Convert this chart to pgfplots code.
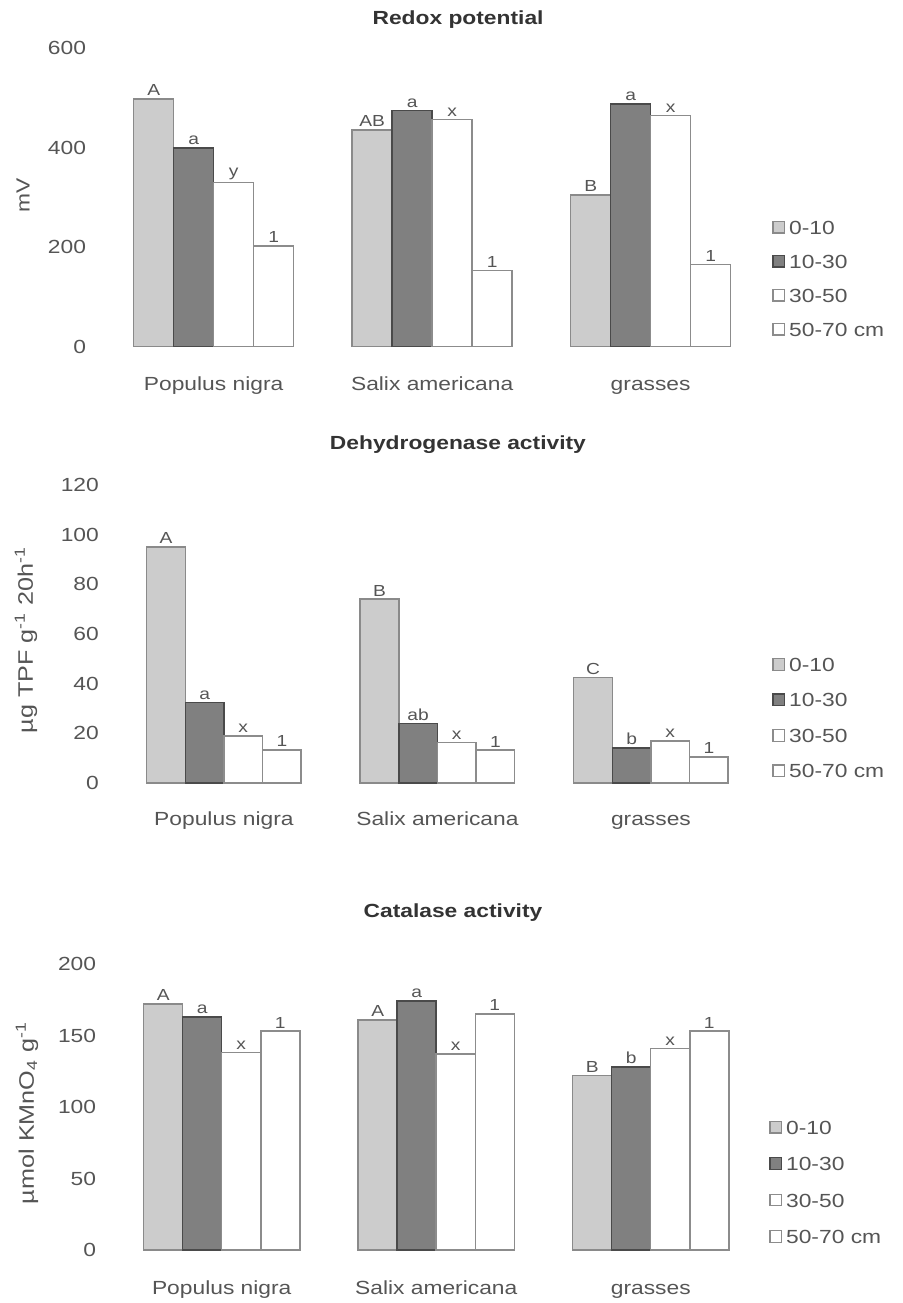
\documentclass[border=0pt]{standalone}
\usepackage{fontspec}
\setmainfont{Liberation Sans}[FakeStretch=1.2]
\usepackage{pgfplots}
\pgfplotsset{compat=1.18}
\definecolor{txt}{HTML}{555555}
\definecolor{ttl}{HTML}{333333}
\definecolor{fillA}{HTML}{CCCCCC}
\definecolor{fillB}{HTML}{808080}
\definecolor{edgeA}{HTML}{8A8A8A}
\definecolor{edgeB}{HTML}{4A4A4A}
\definecolor{edgeW}{HTML}{8C8C8C}
\newcommand\fs{\fontsize{9.5pt}{11pt}\selectfont}
\newcommand\fy{\fontsize{10.5pt}{12pt}\selectfont}
\newcommand\fl{\fontsize{8pt}{9pt}\selectfont}
\pgfplotsset{
  sqlegend/.style={legend image code/.code={\draw[##1,line width=0.6pt] (0pt,-1.9pt) rectangle (5.8pt,3.9pt);}},
  panel/.style={
    scale only axis,
    ybar=0pt,
    xmin=-0.5, xmax=2.5, ymin=0,
    enlargelimits=false,
    axis x line*=bottom, axis y line*=left,
    axis line style={draw=none},
    major tick style={draw=none},
    xtick=data,
    xticklabels={Populus nigra, Salix americana, grasses},
    /pgf/number format/assume math mode=true,
    tick label style={font=\fs, text=txt},
    yticklabel style={anchor=east, inner sep=0pt, xshift=-9pt},
    label style={font=\fs, text=txt},
    title style={font=\fs\bfseries, text=ttl, anchor=center},
    nodes near coords,
    point meta=explicit symbolic,
    nodes near coords style={font=\fl, text=txt, inner sep=1.2pt, anchor=south},
    every axis plot/.append style={sqlegend},
    legend cell align=left,
    legend style={draw=none, fill=none, inner sep=0pt, font=\fs, text=txt,
      nodes={inner sep=0pt, text height=7pt, text depth=2pt},
      column sep=2pt},
  },
  s1/.style={fill=fillA, draw=edgeA, line width=0.75pt},
  s2/.style={fill=fillB, draw=edgeB, line width=0.75pt},
  s3/.style={fill=white, draw=edgeW, line width=0.75pt},
}
\begin{document}
\begin{tikzpicture}
\path[use as bounding box] (0pt,0pt) rectangle (451.5pt,-651.5pt);
% ---------------- Panel 1: Redox potential
\begin{axis}[panel,
  at={(52.2pt,-173.35pt)}, anchor=south west,
  width=327.75pt, height=149.2pt,
  ymax=600, ytick={0,200,400,600},
  bar width=0.183,
  xticklabel style={anchor=center, inner sep=0pt, text height=7pt, text depth=2pt, yshift=-15pt},
  title={Redox potential},
  title style={at={(axis description cs:0.5395,1.055)}},
  ylabel={mV},
  ylabel style={at={(axis description cs:-0.124,0.508)}, anchor=center},
  legend style={at={(axis description cs:1.0185,0.425)}, anchor=north west, row sep=8pt},
]
\addplot[s1] coordinates {(0,498)[A] (1,436)[AB] (2,305)[B]};
\addplot[s2] coordinates {(0,400)[a] (1,475)[a] (2,488)[a]};
\addplot[s3] coordinates {(0,330)[y] (1,457)[x] (2,465)[x]};
\addplot[s3] coordinates {(0,203)[1] (1,153)[1] (2,165)[1]};
\legend{0-10,10-30,30-50,50-70 cm}
\end{axis}
% ---------------- Panel 2: Dehydrogenase activity
\begin{axis}[panel,
  at={(58.6pt,-391.5pt)}, anchor=south west,
  width=320.25pt, height=149pt,
  ymax=120, ytick={0,20,40,60,80,100,120},
  bar width=0.181,
  xticklabel style={anchor=center, inner sep=0pt, text height=7pt, text depth=2pt, yshift=-14.5pt},
  title={Dehydrogenase activity},
  title style={at={(axis description cs:0.532,1.094)}},
  ylabel={µg TPF g\textsuperscript{-1} 20h\textsuperscript{-1}},
  ylabel style={font=\fy, at={(axis description cs:-0.1425,0.48)}, anchor=center},
  legend style={at={(axis description cs:1.0223,0.423)}, anchor=north west, row sep=8.75pt},
]
\addplot[s1] coordinates {(0,95)[A] (1,74)[B] (2,42.5)[C]};
\addplot[s2] coordinates {(0,32.5)[a] (1,24)[ab] (2,14)[b]};
\addplot[s3] coordinates {(0,19)[x] (1,16.3)[x] (2,17)[x]};
\addplot[s3] coordinates {(0,13.3)[1] (1,13.2)[1] (2,10.5)[1]};
\legend{0-10,10-30,30-50,50-70 cm}
\end{axis}
% ---------------- Panel 3: Catalase activity
\begin{axis}[panel,
  at={(57.25pt,-625pt)}, anchor=south west,
  width=321.75pt, height=143pt,
  ymax=200, ytick={0,50,100,150,200},
  bar width=0.182,
  xticklabel style={anchor=center, inner sep=0pt, text height=7pt, text depth=2pt, yshift=-15.5pt},
  title={Catalase activity},
  title style={at={(axis description cs:0.526,1.137)}},
  ylabel={µmol KMnO\textsubscript{4} g\textsuperscript{-1}},
  ylabel style={font=\fy, at={(axis description cs:-0.136,0.479)}, anchor=center},
  legend style={at={(axis description cs:1.017,0.455)}, anchor=north west, row sep=9.2pt},
]
\addplot[s1] coordinates {(0,172)[A] (1,161)[A] (2,122)[B]};
\addplot[s2] coordinates {(0,163)[a] (1,174)[a] (2,128)[b]};
\addplot[s3] coordinates {(0,138)[x] (1,137)[x] (2,141)[x]};
\addplot[s3] coordinates {(0,153)[1] (1,165)[1] (2,153)[1]};
\legend{0-10,10-30,30-50,50-70 cm}
\end{axis}
\end{tikzpicture}
\end{document}
